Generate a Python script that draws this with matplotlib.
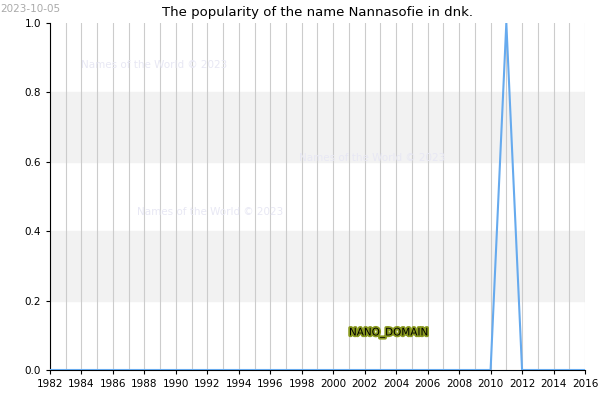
import matplotlib
matplotlib.use("Agg")
import matplotlib.pyplot as plt
import matplotlib.patheffects as pe

years = list(range(1982, 2017))
popularity = [1.0 if y == 2011 else 0.0 for y in years]
xticks = list(range(1982, 2017, 2))
yticks = [0.0, 0.2, 0.4, 0.6, 0.8, 1.0]

fig = plt.figure(figsize=(6, 4), dpi=100)
ax = fig.add_axes([50 / 600, 30 / 400, 535 / 600, 347 / 400])
ax.set_xlim(1982, 2016)
ax.set_ylim(0, 1)
for lo, hi in [(0.2, 0.4), (0.6, 0.8)]:
    ax.axhspan(lo, hi, color="#f2f2f2", zorder=0)
for y in years:
    ax.axvline(y, color="#cccccc", lw=0.8, zorder=1)
ax.plot(years, popularity, color="#66aaee", lw=1.5, zorder=3)
ax.set_xticks(xticks)
ax.set_yticks(yticks)
ax.set_yticklabels([f"{v:.1f}" for v in yticks])
ax.tick_params(labelsize=7.5, length=3)
for s in ["top", "right"]:
    ax.spines[s].set_visible(False)
ax.set_title("The popularity of the name Nannasofie in dnk.", fontsize=9.5, pad=5)

wm = dict(color="#e8e8f4", fontsize=7.5, zorder=2)
ax.text(1984, 0.88, "Names of the World © 2023", va="center", **wm)
ax.text(1997.8, 0.61, "Names of the World © 2023", va="center", **wm)
ax.text(1987.5, 0.455, "Names of the World © 2023", va="center", **wm)
ax.text(2001, 0.107, "NANO_DOMAIN", fontsize=7.5, color="black", va="center", zorder=4,
        path_effects=[pe.withStroke(linewidth=2.5, foreground="#8a9a20")])
fig.text(0.0, 0.99, "2023-10-05", fontsize=7.5, color="#aaaaaa", va="top")
fig.savefig("out.png")
